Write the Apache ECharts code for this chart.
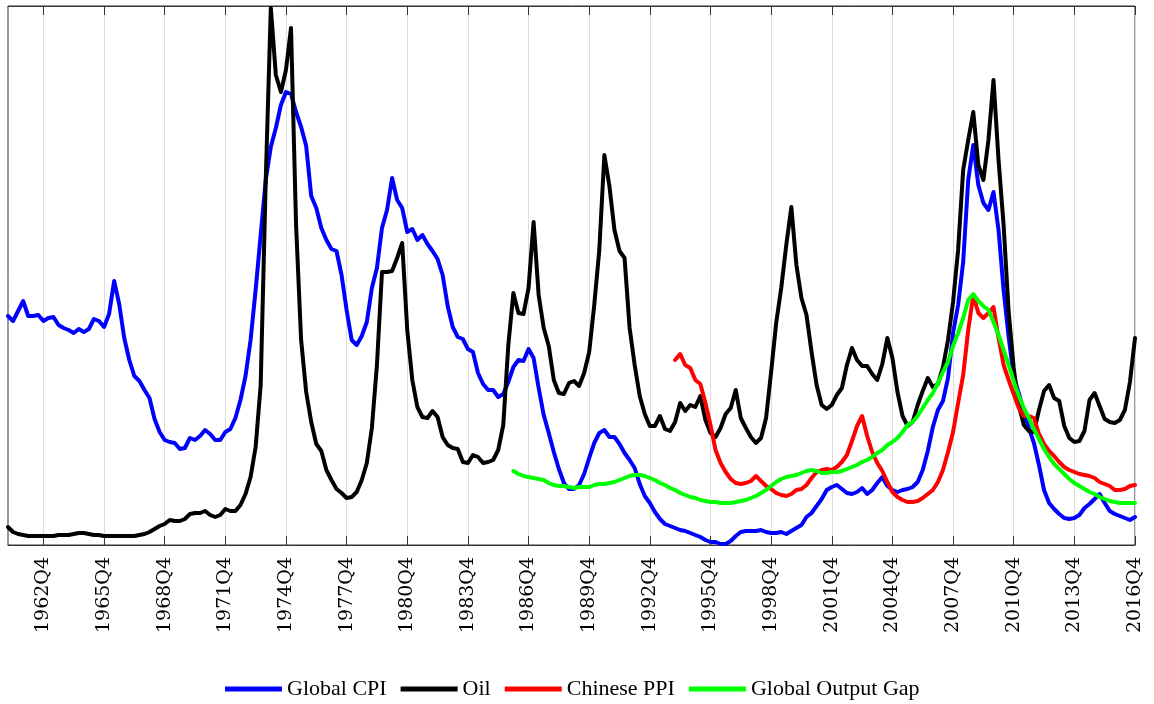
<!DOCTYPE html>
<html>
<head>
<meta charset="utf-8">
<script src="https://cdn.jsdelivr.net/npm/echarts@6/dist/echarts.min.js"></script>
<style>html,body{margin:0;padding:0;background:#fff;}#chart{width:1154px;height:704px;}</style>
</head>
<body>
<div id="chart"></div>
<script>
// Quarterly categories 1961Q1 .. 2016Q4
var startYear = 1961, endYear = 2016;
var quarters = [];
for (var y = startYear; y <= endYear; y++) { for (var q = 1; q <= 4; q++) quarters.push(y + 'Q' + q); }

// Tick labels shown on the axis
var tickLabels = ['1962Q4','1965Q4','1968Q4','1971Q4','1974Q4','1977Q4','1980Q4','1983Q4','1986Q4','1989Q4','1992Q4','1995Q4','1998Q4','2001Q4','2004Q4','2007Q4','2010Q4','2013Q4','2016Q4'];

var seriesNames = ['Global CPI', 'Oil', 'Chinese PPI', 'Global Output Gap'];

// Global CPI (index units), 1961Q1..2016Q4
var globalCPI = [
229,224,234,244,229,229,230,224,227,228,
220,217,215,212,216,213,216,226,224,218,
231,264,241,207,185,169,164,155,147,126,
113,105,103,102,96,97,107,105,109,115,
111,105,105,113,116,127,145,169,205,255,
310,365,398,417,440,453,451,433,418,399,
349,337,317,305,296,294,270,235,205,200,
209,223,257,277,317,335,367,345,337,313,
316,305,310,301,294,286,270,239,218,208,
206,196,193,172,161,155,155,148,151,163,
178,185,184,196,187,157,130,112,93,76,
62,56,56,60,71,87,102,112,115,108,
108,101,92,85,77,61,49,42,33,26,
21,19,17,15,14,12,10,8,5,3,
3,1,1,4,9,13,14,14,14,15,
13,12,12,13,11,14,17,20,28,32,
39,46,55,58,60,56,52,51,53,57,
51,55,62,68,59,55,53,55,56,58,
63,75,94,118,135,144,167,212,240,283,
365,400,360,342,335,353,315,255,208,168,
152,133,117,102,80,55,42,36,31,27,
26,27,30,37,41,46,51,42,34,31,
29,27,25,28
];

// Oil (index units), 1961Q1..2016Q4
var oil = [
18,13,11,10,9,9,9,9,9,9,
10,10,10,11,12,12,11,10,10,9,
9,9,9,9,9,9,10,11,13,16,
19,21,25,24,24,26,31,32,32,34,
30,28,30,36,34,34,40,51,68,98,
160,365,537,470,453,475,517,320,205,153,
123,101,94,75,65,56,52,47,48,53,
65,82,117,180,273,273,274,287,302,215,
165,138,128,127,134,128,108,100,97,96,
83,82,90,88,82,83,85,95,120,200,
252,232,231,257,323,250,217,199,165,152,
151,162,164,159,172,193,240,295,390,359,
315,294,287,217,180,149,131,119,119,129,
116,114,123,142,134,140,138,149,125,112,
108,117,131,137,155,127,117,108,102,107,
127,173,222,257,300,338,280,247,230,193,
160,140,136,140,150,157,180,197,185,179,
179,171,165,181,207,187,153,129,119,123,
140,154,167,158,161,178,205,243,295,375,
405,433,380,365,405,465,385,320,233,177,
140,120,114,113,135,154,160,147,144,119,
107,103,104,114,145,152,139,126,123,122,
125,135,163,207
];

// Chinese PPI (index units), 1994Q1..2016Q4
var ppiStart = '1994Q1';
var chinesePPI = [
185,191,180,177,165,161,142,120,95,82,
73,66,62,61,62,64,69,64,59,56,
52,50,49,51,55,56,60,67,73,75,
76,75,78,83,90,104,119,129,109,93,
82,74,63,53,48,45,43,43,44,47,
51,55,63,75,93,113,142,170,215,250,
232,227,232,238,207,180,165,151,137,129,
129,127,111,101,94,89,83,78,75,73,
71,70,69,67,63,61,59,55,55,56,
59,60
];

// Global Output Gap (index units), 1986Q1..2016Q4
var gapStart = '1986Q1';
var outputGap = [
74,71,69,68,67,66,65,62,60,59,
59,58,57,58,58,58,60,61,61,62,
63,65,67,69,70,70,69,67,65,62,
60,57,55,52,50,48,47,45,44,43,
43,42,42,42,43,44,45,47,49,52,
55,59,63,66,68,69,70,72,74,75,
74,72,72,73,73,74,76,78,80,83,
85,88,92,95,100,103,107,113,120,123,
129,137,145,152,162,173,183,199,212,227,
245,251,244,239,235,223,210,195,180,164,
149,137,127,116,106,96,88,81,76,71,
66,62,59,56,53,51,48,46,44,43,
42,42,42,42
];

function padFrom(startLabel, arr) {
  var k = quarters.indexOf(startLabel);
  var out = [];
  for (var i = 0; i < k; i++) out.push(null);
  return out.concat(arr);
}

var labelSet = {};
tickLabels.forEach(function (t) { labelSet[t] = true; });
function isTick(idx) { return !!labelSet[quarters[idx]]; }

var colors = ['#0000ff', '#000000', '#ff0000', '#00ff00'];
var seriesData = [globalCPI, oil, padFrom(ppiStart, chinesePPI), padFrom(gapStart, outputGap)];

var chart = echarts.init(document.getElementById('chart'), null, { renderer: 'canvas' });
chart.setOption({
  animation: false,
  backgroundColor: '#ffffff',
  grid: { left: 8, right: 19, top: 6, bottom: 159, show: true, borderColor: '#333', borderWidth: 1, backgroundColor: 'transparent' },
  legend: {
    data: seriesNames,
    left: 225, top: 678, padding: 0,
    icon: 'rect', itemWidth: 57, itemHeight: 5, itemGap: 14,
    textStyle: { fontFamily: 'Liberation Serif', fontSize: 22, color: '#000' }
  },
  xAxis: [{
    type: 'category', data: quarters, boundaryGap: false, position: 'bottom',
    axisLine: { show: true, lineStyle: { color: '#333', width: 1 } },
    axisTick: { show: true, inside: true, length: 9, interval: function (i) { return isTick(i); }, lineStyle: { color: '#333' } },
    axisLabel: { show: true, rotate: 90, margin: 12, interval: function (i) { return isTick(i); }, fontFamily: 'DejaVu Serif', fontSize: 19, color: '#000' },
    splitLine: { show: true, interval: function (i) { return isTick(i); }, lineStyle: { color: '#dddddd', width: 1 } }
  }, {
    type: 'category', data: quarters, boundaryGap: false, position: 'top',
    axisLine: { show: true, lineStyle: { color: '#333', width: 1 } },
    axisTick: { show: true, inside: true, length: 9, interval: function (i) { return isTick(i); }, lineStyle: { color: '#333' } },
    axisLabel: { show: false }, splitLine: { show: false }
  }],
  yAxis: {
    type: 'value', min: 0, max: 539,
    axisLine: { show: false }, axisTick: { show: false }, axisLabel: { show: false }, splitLine: { show: false }
  },
  series: seriesNames.map(function (n, k) {
    return {
      name: n, type: 'line', data: seriesData[k], xAxisIndex: 0,
      showSymbol: false, symbol: 'none', connectNulls: false,
      itemStyle: { color: colors[k] },
      lineStyle: { color: colors[k], width: 4, join: 'round', cap: 'round' }
    };
  })
});
</script>
</body>
</html>
